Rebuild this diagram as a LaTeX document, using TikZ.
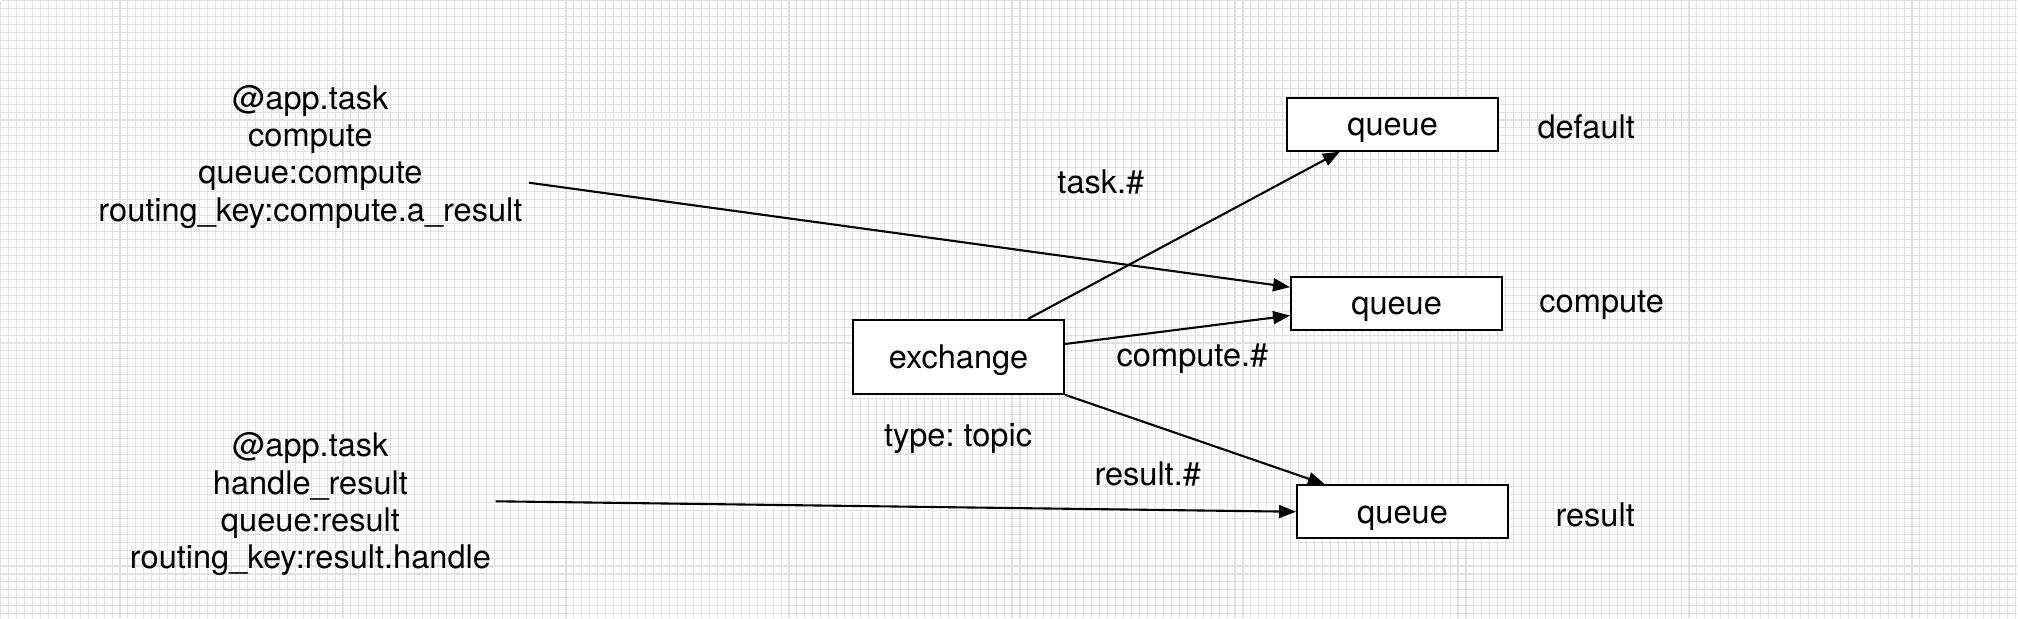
\documentclass[tikz,border=0pt]{standalone}
\usepackage{fontspec}
\setmainfont{TeX Gyre Heros}
\usepackage{tikz}
\usepackage{xcolor}
\usetikzlibrary{arrows.meta,positioning,calc}
\definecolor{ink}{HTML}{000000}
\definecolor{gridgray}{HTML}{E1E1E1}
\newcommand{\diagfont}{\fontsize{9.3}{10.65}\selectfont}
\frenchspacing
\tikzset{
  qbox/.style={draw=ink,fill=white,line width=0.6pt,
               minimum width=2.12cm,minimum height=0.53cm,
               inner sep=0pt,text height=1.5ex,text depth=0.25ex,
               font=\diagfont},
  xbox/.style={qbox,minimum height=0.74cm},
  tasknote/.style={align=center,inner sep=0pt,font=\diagfont},
  keylabel/.style={inner sep=0pt,font=\diagfont},
  flowarr/.style={-{Triangle[length=1.7mm,width=1.3mm]},line width=0.6pt,color=ink}
}

\begin{document}
\begin{tikzpicture}[x=1cm,y=1cm,>=Latex]
  \fill[white] (0,0) rectangle (20.18,-6.2);
  \begin{scope}[xshift=0.027cm]
    \draw[gridgray,line width=0.3pt,step=0.08] (-0.08,0) grid (20.18,-6.2);
  \end{scope}
  \useasboundingbox (0,0) rectangle (20.18,-6.2);

  \node[xbox] (exch) at (9.57,-3.58) {exchange};
  \node[qbox] (qdef) at (13.93,-1.243) {queue};
  \node[qbox] (qcomp) at (13.97,-3.042) {queue};
  \node[qbox] (qres) at (14.03,-5.135) {queue};

  \node[keylabel] (ldef) at (15.875,-1.267) {default};
  \node[keylabel] (lcomp) at (16.03,-3.06) {compute};
  \node[keylabel] (lres) at (15.965,-5.167) {result};
  \node[keylabel] (ltype) at (9.565,-4.40) {type: topic};
  \node[keylabel] (ktask) at (11.0,-1.82) {task.\#};
  \node[keylabel] (kcomp) at (11.92,-3.60) {compute.\#};
  \node[keylabel] (kres) at (11.47,-4.76) {result.\#};

  \node[tasknote] (tcomp) at (3.06,-1.57)
    {@app.task\\compute\\queue:compute\\routing\_key:compute.a\_result};
  \node[tasknote] (tres) at (3.06,-5.06)
    {@app.task\\handle\_result\\queue:result\\routing\_key:result.handle};

  \draw[flowarr] ([xshift=0.696cm]exch.north) -- ([xshift=-0.53cm]qdef.south);
  \draw[flowarr] ([yshift=0.13cm]exch.east) -- ([yshift=-0.122cm]qcomp.west);
  \draw[flowarr] (exch.south east) -- ([xshift=-0.78cm]qres.north);
  \draw[flowarr] ([xshift=0.06cm,yshift=-0.26cm]tcomp.east) -- ([yshift=0.163cm]qcomp.west);
  \draw[flowarr] ([xshift=0.04cm,yshift=0.03cm]tres.east) -- (qres.west);
\end{tikzpicture}
\end{document}
